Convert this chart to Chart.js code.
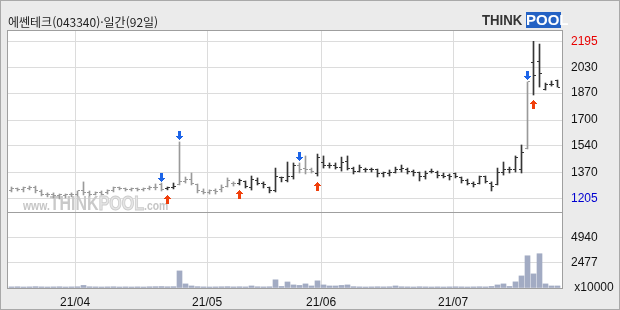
<!DOCTYPE html>
<html lang="ko">
<head>
<meta charset="UTF-8">
<title>에쎈테크 일간</title>
<script src="https://cdn.jsdelivr.net/npm/chart.js@4.4.0/dist/chart.umd.min.js"></script>
<style>
  body { margin: 0; background: #ebebeb; }
  #wrap { position: relative; width: 620px; height: 310px; overflow: hidden; }
  #frame { position: absolute; left: 0; top: 0; width: 620px; height: 310px; box-sizing: border-box;
           border: 1px solid #a9a9a9; pointer-events: none; }
  #title { position: absolute; left: 8px; top: 13px; font: 12px "Noto Sans CJK KR"; color: #222; line-height: 17px; }
  #logo { position: absolute; left: 482px; top: 12px; height: 16px; font: bold 15px "Liberation Sans";
          line-height: 16px; white-space: nowrap; }
  #logo .t { color: #333; display: inline-block; transform: scaleX(0.88); transform-origin: left; }
  #logo .p { position: absolute; left: 44px; top: 0; width: 35px; height: 16px; background: #2462c4; color: #fff;
             text-align: center; }
</style>
</head>
<body>
<div id="wrap">
  <canvas id="chart" width="620" height="310"></canvas>
  <div id="title">에쎈테크(043340)·일간(92일)</div>
  <div id="logo"><span class="t">THINK</span><span class="p">POOL</span></div>
  <div id="frame"></div>
</div>
<script>
// daily bars, 2021-03-17 .. 2021-07-26 (92 trading days)
const opens = [1261,1268,1262,1268,1280,1249,1236,1230,1224,1224,1230,1236,1255,1243,1236,1243,1243,1255,1274,1268,
  1262,1268,1262,1268,1280,1293,1268,1280,1293,1312,1330,1293,1249,1243,1255,1262,1286,1305,1305,1312,
  1274,1318,1305,1274,1255,1337,1324,1343,1418,1399,1393,1362,1437,1418,1412,1405,1443,1399,1380,1393,
  1387,1387,1362,1362,1374,1393,1393,1380,1368,1343,1380,1374,1355,1355,1362,1337,1318,1299,1305,1349,
  1305,1293,1368,1387,1387,1387,1525,2065,2071,1895,1927,1946];
const highs = [1280,1274,1280,1286,1286,1262,1243,1243,1236,1236,1243,1255,1312,1255,1249,1255,1262,1280,1280,1274,
  1274,1274,1274,1286,1299,1305,1280,1305,1563,1343,1368,1299,1268,1262,1268,1293,1337,1312,1330,1318,
  1349,1337,1312,1280,1399,1343,1437,1431,1431,1475,1399,1487,1475,1431,1431,1468,1475,1405,1418,1399,
  1399,1393,1374,1387,1405,1418,1399,1387,1374,1380,1393,1380,1368,1362,1368,1343,1330,1312,1349,1349,
  1312,1399,1437,1405,1475,1544,1940,2195,2178,1933,1946,1952];
const lows = [1249,1255,1249,1262,1243,1224,1218,1211,1205,1211,1218,1224,1230,1224,1230,1230,1236,1249,1262,1255,
  1255,1255,1255,1262,1262,1255,1262,1268,1293,1305,1293,1243,1236,1236,1236,1249,1280,1286,1293,1274,
  1261,1293,1274,1243,1249,1312,1312,1330,1368,1362,1368,1349,1399,1399,1393,1380,1387,1362,1374,1374,
  1374,1343,1343,1349,1368,1374,1362,1349,1318,1330,1368,1337,1337,1324,1337,1305,1293,1280,1299,1305,
  1255,1293,1355,1368,1374,1368,1519,1858,1908,1889,1914,1908];
const closes = [1268,1262,1274,1280,1255,1236,1230,1224,1230,1230,1236,1255,1243,1236,1243,1236,1255,1274,1268,1262,
  1268,1262,1268,1280,1274,1262,1274,1286,1312,1330,1299,1255,1243,1255,1249,1280,1324,1299,1318,1286,
  1330,1305,1293,1255,1349,1337,1343,1418,1393,1393,1380,1468,1418,1412,1405,1437,1399,1380,1405,1387,
  1387,1362,1368,1374,1393,1399,1380,1368,1343,1362,1380,1355,1349,1349,1349,1318,1305,1293,1349,1312,
  1286,1368,1393,1393,1468,1494,1940,1983,1990,1927,1927,1908];
// volume, x10000 shares
const volumes = [110,120,100,110,130,110,100,110,120,100,110,120,250,120,110,100,110,120,100,110,
  100,110,100,120,130,140,120,130,1670,400,200,130,110,100,110,120,130,110,120,110,
  200,120,110,120,800,150,590,300,250,400,200,700,300,200,200,250,300,130,110,100,
  110,120,110,120,200,120,110,100,120,110,100,110,100,110,120,110,100,110,120,110,
  150,300,400,150,600,1180,3150,1380,3350,400,200,200];

const sellSignals = [25, 28, 48, 86];
const buySignals = [26, 38, 51, 87];

const monthLabels = ['21/04', '21/05', '21/06', '21/07'];
const monthStarts = [11, 33, 52, 74];
const priceTicks = [1205, 1370, 1540, 1700, 1870, 2030, 2195];
const volumeTicks = [2477, 4940];

// bars are grey while the latest signal is a sell
const faded = [];
let sellMode = true;
for (let i = 0; i < closes.length; i++) {
  if (sellSignals.includes(i)) sellMode = true;
  if (buySignals.includes(i)) sellMode = false;
  faded.push(sellMode);
}

const GREY = '#9a9a9a', DARK = '#363636';

// little pixel sprites used as point styles
function sprite(w, h, color, rows) {
  const c = document.createElement('canvas');
  c.width = w; c.height = h;
  const g = c.getContext('2d');
  g.fillStyle = color;
  rows.forEach(r => g.fillRect(r[1], r[0], r[2] - r[1] + 1, 1));
  return c;
}
const openDark = sprite(7, 1, DARK, [[0, 1, 2]]);
const openGrey = sprite(7, 1, GREY, [[0, 1, 2]]);
const closeDark = sprite(7, 1, DARK, [[0, 4, 5]]);
const closeGrey = sprite(7, 1, GREY, [[0, 4, 5]]);
const sellArrow = sprite(7, 21, '#1c64e8',
  [[0,2,4],[1,2,4],[2,2,4],[3,2,4],[4,2,4],[5,0,6],[6,1,5],[7,2,4],[8,3,3]]);
const buyArrow = sprite(7, 29, '#f0400c',
  [[20,3,3],[21,2,4],[22,1,5],[23,0,6],[24,2,4],[25,2,4],[26,2,4],[27,2,4],[28,2,4]]);

const idx = closes.map((_, i) => i);

const paneBg = {
  id: 'paneBg',
  beforeDraw(chart) {
    const {ctx, chartArea: a} = chart;
    ctx.save();
    ctx.fillStyle = '#fff';
    ctx.fillRect(a.left, a.top, a.right - a.left, a.bottom - a.top);
    ctx.restore();
  },
  beforeDatasetsDraw(chart) {
    const {ctx, chartArea: a} = chart;
    const base = chart.scales.y.bottom - 2;
    ctx.save();
    ctx.scale(0.8, 1);
    let x = (a.left + 15) / 0.8;
    ctx.textBaseline = 'alphabetic';
    ctx.font = 'bold 13px "Liberation Sans"';
    ctx.fillStyle = '#c6c6c6';
    ctx.fillText('www.', x, base); x += ctx.measureText('www.').width;
    ctx.font = 'bold 20px "Liberation Sans"';
    ctx.fillStyle = '#c9c9c9';
    ctx.fillText('THINK', x, base); x += ctx.measureText('THINK').width;
    ctx.fillStyle = '#e6e6e6';
    ctx.strokeStyle = '#cdcdcd';
    ctx.lineWidth = 1;
    ctx.fillText('POOL', x, base);
    ctx.strokeText('POOL', x, base); x += ctx.measureText('POOL').width;
    ctx.font = 'bold 13px "Liberation Sans"';
    ctx.fillStyle = '#c6c6c6';
    ctx.fillText('.com', x, base);
    ctx.restore();
    ctx.imageSmoothingEnabled = false;
  },
  afterDraw(chart) {
    const {ctx, chartArea: a} = chart;
    ctx.save();
    ctx.strokeStyle = '#9f9f9f';
    ctx.lineWidth = 1;
    ctx.strokeRect(a.left - 0.5, a.top - 0.5, a.right - a.left + 1, a.bottom - a.top + 1);
    ctx.restore();
  }
};

const tickFont = {family: '"Liberation Sans"', size: 12};

new Chart(document.getElementById('chart'), {
  type: 'bar',
  data: {
    datasets: [
      {
        data: idx.map(i => ({x: i, y: [lows[i], highs[i]]})),
        yAxisID: 'y', grouped: false, barThickness: 1,
        backgroundColor: c => faded[c.dataIndex] ? GREY : DARK
      },
      {
        type: 'line', showLine: false, yAxisID: 'y', pointRadius: 3,
        data: idx.map(i => ({x: i, y: opens[i]})),
        pointStyle: c => faded[c.dataIndex] ? openGrey : openDark
      },
      {
        type: 'line', showLine: false, yAxisID: 'y', pointRadius: 3,
        data: idx.map(i => ({x: i, y: closes[i]})),
        pointStyle: c => faded[c.dataIndex] ? closeGrey : closeDark
      },
      {
        type: 'line', showLine: false, yAxisID: 'y', pointRadius: 3, clip: false,
        data: sellSignals.map(i => ({x: i, y: highs[i]})),
        pointStyle: sellArrow
      },
      {
        type: 'line', showLine: false, yAxisID: 'y', pointRadius: 3, clip: false,
        data: buySignals.map(i => ({x: i, y: lows[i]})),
        pointStyle: buyArrow
      },
      {
        data: idx.map(i => ({x: i, y: volumes[i]})),
        yAxisID: 'v', grouped: false, barThickness: 5,
        backgroundColor: '#a2abc3'
      }
    ]
  },
  options: {
    responsive: false,
    animation: false,
    devicePixelRatio: 1,
    events: [],
    layout: {padding: {left: 8, top: 31, right: 0, bottom: 0}},
    plugins: {legend: {display: false}, tooltip: {enabled: false}},
    scales: {
      x: {
        type: 'linear', min: -7 / 12, max: 91.75, offset: false,
        afterBuildTicks: s => { s.ticks = monthStarts.map(m => ({value: m - 0.4})); },
        afterFit: s => { s.height = 22; },
        grid: {offset: false, color: '#dcdcdc', drawTicks: false},
        border: {display: false},
        ticks: {padding: 7, autoSkip: false, maxRotation: 0, color: '#111', font: tickFont,
                callback: (v, i) => monthLabels[i]}
      },
      y: {
        type: 'linear', position: 'right', stack: 'panes', stackWeight: 181,
        min: 1123, max: 2260,
        afterBuildTicks: s => { s.ticks = priceTicks.map(v => ({value: v})); },
        afterFit: s => { s.width = 58; },
        grid: {color: '#dcdcdc', drawTicks: false},
        border: {display: false},
        ticks: {padding: 9, autoSkip: false, font: tickFont,
                color: c => c.tick.value === 2195 ? '#e80000' : c.tick.value === 1205 ? '#0000d0' : '#111',
                callback: v => String(v)}
      },
      v: {
        type: 'linear', position: 'right', stack: 'panes', stackWeight: 76,
        min: 0, max: 7430,
        afterBuildTicks: s => { s.ticks = [0].concat(volumeTicks, [7430]).map(v => ({value: v})); },
        afterFit: s => { s.width = 58; },
        grid: {drawTicks: false,
               color: c => c.tick.value === 7430 ? '#9f9f9f' : c.tick.value === 0 ? 'rgba(0,0,0,0)' : '#dcdcdc'},
        border: {display: false},
        ticks: {padding: 9, autoSkip: false, color: '#111', font: tickFont,
                callback: v => v === 0 ? ' x10000' : v === 7430 ? '' : String(v)}
      }
    }
  },
  plugins: [paneBg]
});
</script>
</body>
</html>
